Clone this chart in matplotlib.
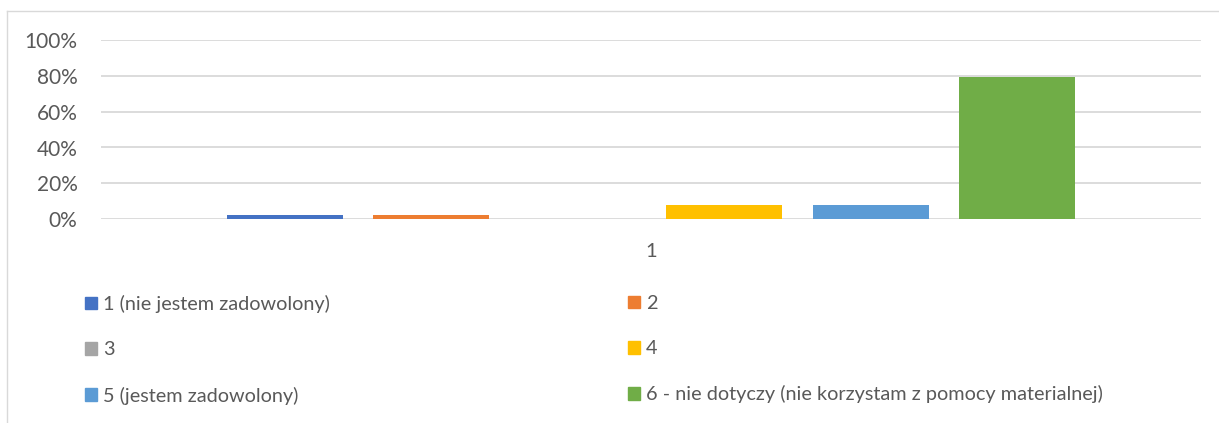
import matplotlib.pyplot as plt
from matplotlib.patches import Patch
from matplotlib.ticker import PercentFormatter

# answers to one survey question, share of respondents
labels = ['1 (nie jestem zadowolony)', '2', '3', '4',
          '5 (jestem zadowolony)',
          '6 - nie dotyczy (nie korzystam z pomocy materialnej)']
shares = [0.026, 0.026, 0.0, 0.077, 0.077, 0.795]
colors = ['#4472C4', '#ED7D31', '#A5A5A5', '#FFC000', '#5B9BD5', '#70AD47']
category = ['1']
yticks = [0, 0.2, 0.4, 0.6, 0.8, 1.0]

plt.rcParams['font.family'] = ['Lato', 'DejaVu Sans']
W, H = 1219, 423
fig = plt.figure(figsize=(W / 100, H / 100), dpi=100)

# frame of the chart box (top and left edges visible)
fig.add_artist(plt.Line2D([7 / W, 1], [1 - 11 / H] * 2, color='#D9D9D9', lw=1))
fig.add_artist(plt.Line2D([7 / W] * 2, [0, 1 - 11 / H], color='#D9D9D9', lw=1))

ax = fig.add_axes([101 / W, 1 - 219.3 / H, 1100 / W, 179.5 / H])

n = len(shares)
step = 146.5 / 1100
width = 116 / 1100
for i, (lab, v, c) in enumerate(zip(labels, shares, colors)):
    ax.bar((i - (n - 1) / 2) * step, v, width=width, color=c, label=lab, zorder=3)

ax.set_xlim(-0.5, 0.5)
ax.set_ylim(0, 1)
ax.set_yticks(yticks)
ax.yaxis.set_major_formatter(PercentFormatter(1.0, decimals=0))
ax.set_xticks([0])
ax.set_xticklabels(category)
ax.grid(axis='y', color='#D9D9D9', lw=1.3, zorder=0)
ax.set_axisbelow(True)
for s in ax.spines.values():
    s.set_visible(False)
ax.tick_params(axis='y', length=0, pad=17, labelsize=15, labelcolor='#595959')
ax.tick_params(axis='x', length=0, pad=17, labelsize=14.5, labelcolor='#595959')

handles = [Patch(color=c) for c in colors]
order = [[0, 2, 4], [1, 3, 5]]
xs = [85 / W, 628 / W]
for col, x in zip(order, xs):
    leg = fig.legend([handles[i] for i in col], [labels[i] for i in col],
                     loc='upper left', bbox_to_anchor=(x, 1 - 295 / H),
                     frameon=False, fontsize=14.3, handlelength=0.6,
                     handleheight=0.6, handletextpad=0.3, labelspacing=1.42,
                     borderpad=0, borderaxespad=0)
    for t in leg.get_texts():
        t.set_color('#595959')

fig.savefig('out.png', dpi=100)
